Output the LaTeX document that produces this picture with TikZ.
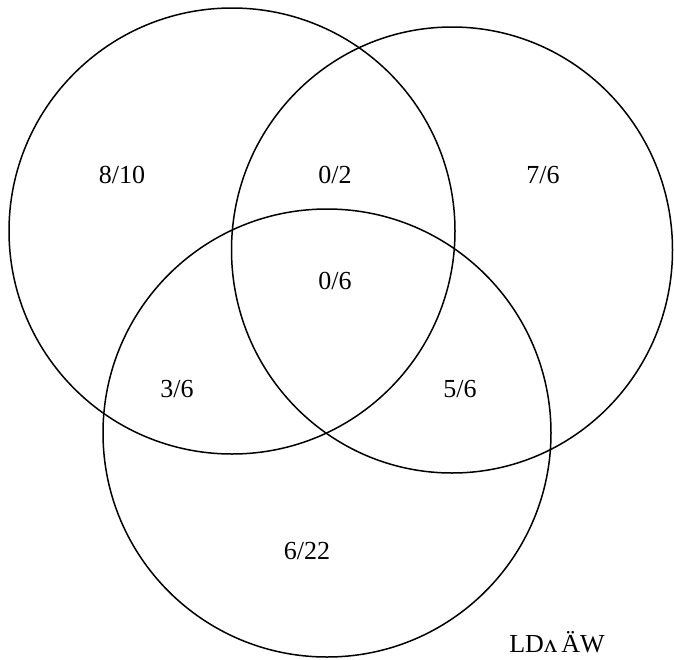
\documentclass[tikz,border=0pt]{standalone}
\usepackage{fontspec}
\setmainfont{Liberation Serif}
\begin{document}
\begin{tikzpicture}[x=1pt,y=-1pt,
  ring/.style={draw=black,line width=1.5pt},
  lab/.style={inner sep=0pt,font=\fontsize{26}{30}\selectfont}]
\useasboundingbox (0,0) rectangle (674,659);
\draw[ring] (232,231) circle [radius=223];
\draw[ring] (452,250) ellipse [x radius=220.5, y radius=223];
\draw[ring] (327,433) circle [radius=224];
\node[lab] (a) at (122,175) {8/10};
\node[lab] (b) at (335,175) {0/2};
\node[lab] (c) at (543,175) {7/6};
\node[lab] (d) at (335,281) {0/6};
\node[lab] (e) at (177,389) {3/6};
\node[lab] (f) at (460,389) {5/6};
\node[lab] (g) at (307,551) {6/22};
\node[lab] (h) at (557,642) {LDʌ\,ÄW};
\end{tikzpicture}
\end{document}
